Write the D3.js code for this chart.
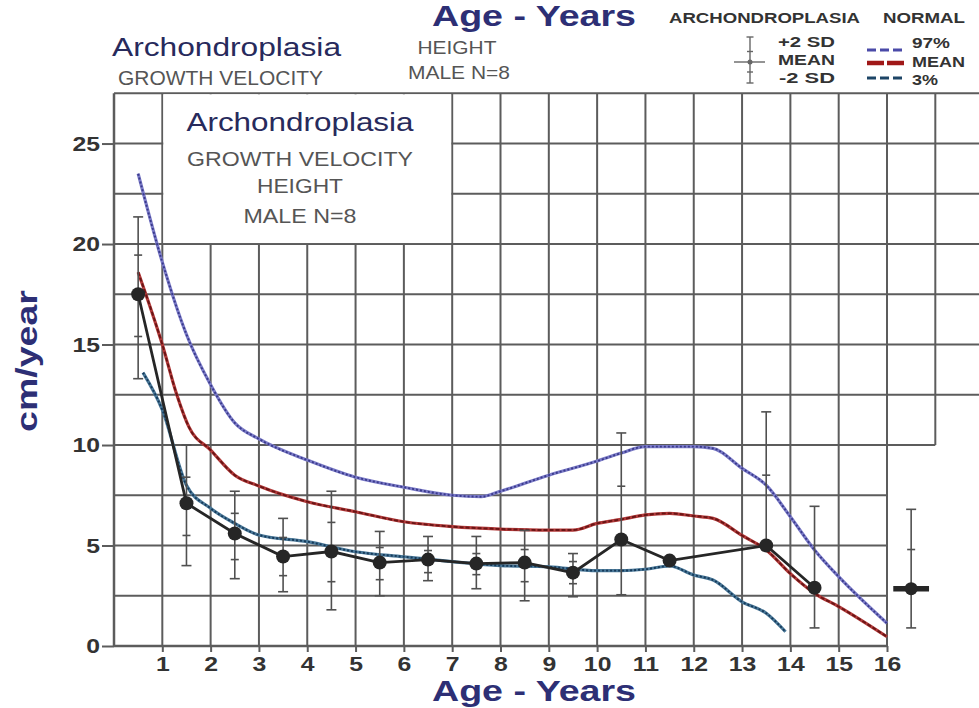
<!DOCTYPE html>
<html><head><meta charset="utf-8">
<script src="https://cdn.jsdelivr.net/npm/d3@7"></script>
<style>
body{margin:0;background:#fff}
svg{display:block}
text{font-family:"Liberation Sans",Arial,Helvetica,sans-serif}
</style>
</head><body>
<svg id="c" width="979" height="708"></svg>
<script>
// ---------- DATA ----------
// Achondroplasia (male, N=8): mean growth velocity with ±1 SD and ±2 SD marks
const achAges   = [0.5, 1.5, 2.5, 3.5, 4.5, 5.5, 6.5, 7.5, 8.5, 9.5, 10.5, 11.5, 13.5, 14.5];
const achMean   = [17.5, 7.1, 5.6, 4.45, 4.7, 4.15, 4.3, 4.1, 4.15, 3.65, 5.3, 4.25, 5.0, 2.9];
const achPlus2  = [21.35, 10.0, 7.7, 6.35, 7.7, 5.7, 5.45, 5.45, 5.75, 4.6, 10.6, null, 11.65, 6.95];
const achPlus1  = [19.45, 8.4, 6.6, 5.4, 6.15, 4.9, 4.75, 4.6, 4.8, 4.2, 7.95, null, 8.5, null];
const achMinus1 = [15.4, 5.5, 4.3, 3.5, 3.2, 3.3, 3.65, 3.55, 3.2, 3.1, null, null, null, null];
const achMinus2 = [13.3, 4.0, 3.35, 2.7, 1.8, 2.5, 3.25, 2.85, 2.25, 2.45, 2.55, null, null, 0.9];
// Final (adult) value shown separately to the right
const finalAge    = [16.5];
const finalMean   = [2.85];
const finalPlus2  = [6.8];
const finalPlus1  = [4.8];
const finalMinus2 = [0.9];

// Normal reference curves
const n97Ages  = [0.5, 1, 1.5, 2, 2.5, 3, 4, 5, 6, 7, 7.6, 8, 9, 10, 10.5, 11, 12, 12.4, 13, 13.5, 14, 14.5, 15, 16];
const n97Vals  = [23.5, 19.1, 15.5, 13.0, 11.1, 10.3, 9.25, 8.4, 7.9, 7.5, 7.43, 7.7, 8.5, 9.2, 9.6, 9.92, 9.92, 9.83, 8.84, 8.0, 6.43, 4.78, 3.45, 1.13];
const nMeanAges = [0.5, 1, 1.3, 1.55, 2, 2.5, 3, 4, 5, 6, 7, 8, 9, 9.5, 10, 10.5, 11, 11.5, 12, 12.4, 13, 13.5, 14, 14.5, 15, 16];
const nMeanVals = [18.6, 15.0, 12.5, 10.9, 9.75, 8.5, 7.96, 7.18, 6.68, 6.18, 5.94, 5.82, 5.77, 5.77, 6.1, 6.3, 6.52, 6.6, 6.47, 6.35, 5.5, 4.78, 3.6, 2.62, 1.96, 0.46];
const n3Ages   = [0.6, 1, 1.5, 2, 2.5, 3, 4, 5, 6, 7, 8, 9, 10, 10.5, 11, 11.5, 12, 12.4, 13, 13.5, 13.9];
const n3Vals   = [13.6, 11.75, 8.0, 6.85, 6.1, 5.52, 5.19, 4.69, 4.44, 4.2, 4.0, 3.94, 3.75, 3.75, 3.82, 3.98, 3.53, 3.28, 2.2, 1.63, 0.71];

// Axis ticks
const xTicks = [1,2,3,4,5,6,7,8,9,10,11,12,13,14,15,16];
const yTicks = [0,5,10,15,20,25];

// ---------- DRAW ----------
const svg = d3.select("#c");
const x = d3.scaleLinear().domain([0, 16]).range([114, 887]);
const y = d3.scaleLinear().domain([0, 27.5]).range([646, 93.3]);
const GRID = "#5c5c5c", NAVY = "#2d2f75", GREY = "#555";

function txt(str, px, py, o) {
  const t = svg.append("text").attr("x", px).attr("y", py).text(str)
    .attr("font-size", o.size).attr("font-weight", o.weight || "normal")
    .attr("fill", o.fill || "#333").attr("text-anchor", o.anchor || "start");
  if (o.width) t.attr("textLength", o.width).attr("lengthAdjust", "spacingAndGlyphs");
  if (o.rotate) t.attr("transform", `rotate(${o.rotate},${px},${py})`);
  return t;
}

// grid
const grid = svg.append("g").attr("stroke", GRID).attr("stroke-width", 2);
d3.range(2.5, 27.51, 2.5).forEach(v => {
  const x2 = v > 10 ? 979 : (v === 10 ? x(17) : x(16));
  grid.append("line").attr("x1", x(0)).attr("x2", x2).attr("y1", y(v)).attr("y2", y(v));
});
d3.range(1, 17).forEach(a => {
  grid.append("line").attr("x1", x(a)).attr("x2", x(a)).attr("y1", y(27.5)).attr("y2", y(0));
});
grid.append("line").attr("x1", x(17)).attr("x2", x(17)).attr("y1", y(27.5)).attr("y2", y(10));

// white title box inside the grid
svg.append("rect").attr("x", x(1) + 1).attr("y", y(27.5) + 1)
  .attr("width", x(7) - x(1) - 2).attr("height", y(20) - y(27.5) - 2).attr("fill", "#fff");

// axes
const xAxis = svg.append("g").attr("transform", `translate(0,${y(0)})`)
  .call(d3.axisBottom(x).tickValues(xTicks).tickSize(6).tickPadding(4).tickFormat(d3.format("d")));
const yAxis = svg.append("g").attr("transform", `translate(${x(0)},0)`)
  .call(d3.axisLeft(y).tickValues(yTicks).tickSize(12).tickPadding(2).tickFormat(d3.format("d")));
[xAxis, yAxis].forEach(g => {
  g.select(".domain").remove();
  g.selectAll(".tick line").attr("stroke", GRID).attr("stroke-width", 2);
  g.selectAll(".tick text").attr("font-size", 21).attr("font-weight", "bold").attr("fill", "#333")
    .attr("font-family", "Liberation Sans, Arial, sans-serif")
    .each(function () {
      const w = this.getComputedTextLength();
      d3.select(this).attr("textLength", w * 1.18).attr("lengthAdjust", "spacingAndGlyphs");
    });
});
svg.append("line").attr("x1", x(0)).attr("x2", x(0)).attr("y1", y(27.5)).attr("y2", y(0) + 1)
  .attr("stroke", GRID).attr("stroke-width", 2.5);
svg.append("line").attr("x1", x(0)).attr("x2", x(16)).attr("y1", y(0)).attr("y2", y(0))
  .attr("stroke", GRID).attr("stroke-width", 2.5);

// normal curves
function curve(ages, vals, base, dark, w, dash) {
  const pts = ages.map((a, i) => [a, vals[i]]);
  const line = d3.line().x(d => x(d[0])).y(d => y(d[1])).curve(d3.curveMonotoneX);
  svg.append("path").attr("d", line(pts)).attr("fill", "none").attr("stroke", base).attr("stroke-width", w);
  svg.append("path").attr("d", line(pts)).attr("fill", "none").attr("stroke", dark)
    .attr("stroke-width", w * 0.6).attr("stroke-dasharray", dash);
}
curve(n97Ages, n97Vals, "#7c7cc8", "#3a3a8c", 3.2, "2 2");
curve(nMeanAges, nMeanVals, "#b23a3a", "#6a1515", 3.2, "4 2");
curve(n3Ages, n3Vals, "#4a7898", "#163a5a", 3.2, "2 2");

// error bars
const EB = "#505050";
function errBar(a, m, p2, p1, m1, m2) {
  const g = svg.append("g").attr("stroke", EB).attr("stroke-width", 1.6);
  const top = p2 != null ? p2 : m, bot = m2 != null ? m2 : m;
  g.append("line").attr("x1", x(a)).attr("x2", x(a)).attr("y1", y(top)).attr("y2", y(bot));
  [[p2, 5], [m2, 5], [p1, 4], [m1, 4]].forEach(([v, hw]) => {
    if (v == null) return;
    g.append("line").attr("x1", x(a) - hw).attr("x2", x(a) + hw).attr("y1", y(v)).attr("y2", y(v));
  });
}
achAges.forEach((a, i) => errBar(a, achMean[i], achPlus2[i], achPlus1[i], achMinus1[i], achMinus2[i]));
finalAge.forEach((a, i) => errBar(a, finalMean[i], finalPlus2[i], finalPlus1[i], null, finalMinus2[i]));

// achondroplasia mean line + points
const achPts = achAges.map((a, i) => [a, achMean[i]]);
svg.append("path").attr("d", d3.line().x(d => x(d[0])).y(d => y(d[1]))(achPts))
  .attr("fill", "none").attr("stroke", "#262626").attr("stroke-width", 2.8);
svg.selectAll("circle.ach").data(achPts).enter().append("circle")
  .attr("cx", d => x(d[0])).attr("cy", d => y(d[1])).attr("r", 7).attr("fill", "#262626");
finalAge.forEach((a, i) => {
  svg.append("line").attr("x1", x(a - 0.37)).attr("x2", x(a + 0.37)).attr("y1", y(finalMean[i])).attr("y2", y(finalMean[i]))
    .attr("stroke", "#262626").attr("stroke-width", 5.5);
  svg.append("circle").attr("cx", x(a)).attr("cy", y(finalMean[i])).attr("r", 6.5).attr("fill", "#262626");
});

// ---------- TEXT ----------
txt("Age - Years", 534, 26, {size: 29, weight: "bold", fill: NAVY, anchor: "middle", width: 204});
txt("Age - Years", 534, 701, {size: 30, weight: "bold", fill: NAVY, anchor: "middle", width: 204});
txt("cm/year", 37, 361, {size: 29, weight: "bold", fill: NAVY, anchor: "middle", width: 142, rotate: -90});

txt("Archondroplasia", 112, 56, {size: 26, fill: "#272a5c", width: 229});
txt("GROWTH VELOCITY", 118, 85, {size: 20, fill: GREY, width: 205});
txt("HEIGHT", 457, 54, {size: 19, fill: GREY, anchor: "middle", width: 79});
txt("MALE N=8", 459, 79, {size: 19, fill: GREY, anchor: "middle", width: 102});

txt("Archondroplasia", 300, 131, {size: 26, fill: "#272a5c", anchor: "middle", width: 227});
txt("GROWTH VELOCITY", 300, 166, {size: 20, fill: GREY, anchor: "middle", width: 226});
txt("HEIGHT", 300, 193, {size: 20, fill: GREY, anchor: "middle", width: 86});
txt("MALE N=8", 300, 223, {size: 20, fill: GREY, anchor: "middle", width: 113});

// legend
txt("ARCHONDROPLASIA", 669, 23, {size: 14, weight: "bold", fill: "#333", width: 191});
txt("NORMAL", 883, 23, {size: 14, weight: "bold", fill: "#333", width: 82});
txt("+2  SD", 778, 47, {size: 14, weight: "bold", fill: "#333", width: 57});
txt("MEAN", 778, 65, {size: 14, weight: "bold", fill: "#333", width: 57});
txt("-2  SD", 779, 83, {size: 14, weight: "bold", fill: "#333", width: 56});
txt("97%", 912, 48, {size: 14, weight: "bold", fill: "#333", width: 38});
txt("MEAN", 912, 67, {size: 14, weight: "bold", fill: "#333", width: 53});
txt("3%", 912, 85, {size: 14, weight: "bold", fill: "#333", width: 26});

const lg = svg.append("g").attr("stroke", "#666").attr("stroke-width", 1.4);
lg.append("line").attr("x1", 750).attr("x2", 750).attr("y1", 37).attr("y2", 83);
[[37, 3.5], [83, 3.5], [51.5, 3], [72, 3]].forEach(([yy, hw]) =>
  lg.append("line").attr("x1", 750 - hw).attr("x2", 750 + hw).attr("y1", yy).attr("y2", yy));
lg.append("line").attr("x1", 734).attr("x2", 765).attr("y1", 62).attr("y2", 62);
lg.append("circle").attr("cx", 750).attr("cy", 62).attr("r", 2.5).attr("fill", "#666").attr("stroke", "none");

svg.append("line").attr("x1", 867).attr("x2", 905).attr("y1", 50).attr("y2", 50)
  .attr("stroke", "#4a4aa8").attr("stroke-width", 3).attr("stroke-dasharray", "9 4");
svg.append("line").attr("x1", 867).attr("x2", 905).attr("y1", 63).attr("y2", 63)
  .attr("stroke", "#a01818").attr("stroke-width", 4.5).attr("stroke-dasharray", "17 3");
svg.append("line").attr("x1", 867).attr("x2", 905).attr("y1", 78).attr("y2", 78)
  .attr("stroke", "#1d4566").attr("stroke-width", 3).attr("stroke-dasharray", "9 4");
</script>
</body></html>
